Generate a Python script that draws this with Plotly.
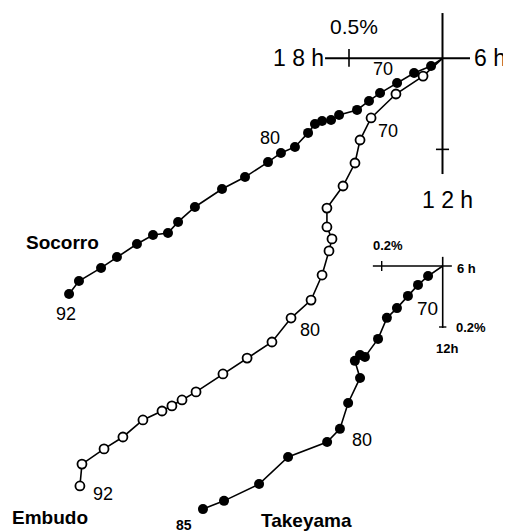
import plotly.graph_objects as go

# ---- data: harmonic dial vectors (amplitude in %), x toward 6h, y toward 12h ----
socorro_years = list(range(68, 93))
socorro_x = [-0.061, -0.152, -0.243, -0.334, -0.393, -0.457, -0.553, -0.596, -0.644, -0.682,
             -0.719, -0.789, -0.864, -0.933, -1.056, -1.179, -1.324, -1.414, -1.468, -1.548,
             -1.634, -1.741, -1.826, -1.944, -1.997]
socorro_y = [0.041, 0.079, 0.132, 0.186, 0.228, 0.276, 0.303, 0.330, 0.335, 0.351,
             0.399, 0.474, 0.506, 0.555, 0.635, 0.699, 0.795, 0.875, 0.934, 0.945,
             0.993, 1.063, 1.121, 1.191, 1.260]

embudo_years = list(range(68, 93))
embudo_x = [-0.104, -0.249, -0.382, -0.441, -0.468, -0.532, -0.618, -0.618, -0.591, -0.607,
            -0.644, -0.703, -0.810, -0.912, -1.045, -1.174, -1.318, -1.393, -1.447, -1.500,
            -1.602, -1.709, -1.810, -1.928, -1.939]
embudo_y = [0.095, 0.191, 0.319, 0.437, 0.560, 0.683, 0.801, 0.902, 0.966, 1.030,
            1.159, 1.293, 1.389, 1.517, 1.603, 1.688, 1.784, 1.827, 1.859, 1.886,
            1.934, 2.025, 2.089, 2.170, 2.287]

takeyama_years = list(range(69, 86))
takeyama_x = [-0.048, -0.081, -0.114, -0.150, -0.183, -0.212, -0.255, -0.271, -0.288, -0.271,
              -0.310, -0.337, -0.379, -0.507, -0.602, -0.717, -0.786]
takeyama_y = [0.033, 0.062, 0.098, 0.138, 0.170, 0.239, 0.298, 0.292, 0.311, 0.367,
              0.449, 0.534, 0.577, 0.626, 0.715, 0.770, 0.797]

main_scale_label = "0.5%"
main_tick = 0.5
tk_scale_label = "0.2%"
tk_tick = 0.2

# ---- layout geometry (window pixels); the page body adds an 8px margin ----
OFF = 8
W, H = 511 - OFF, 532 - OFF
O1 = (442.5 - OFF, 58.3 - OFF); S1 = 187.0   # main dial origin, px per %
O2 = (442.7 - OFF, 266.0 - OFF); S2 = 305.0  # Takeyama dial origin, px per %

def rng_x(o, s):
    return [(0 - o[0]) / s, (W - o[0]) / s]

def rng_y(o, s):
    return [(H - o[1]) / s, (0 - o[1]) / s]

def px(x, y):
    return (x - OFF) / W, 1 - (y - OFF) / H

fig = go.Figure()
LW = 1.6
BLACK = "black"

def seg(xs, ys, ax, ay, w):
    fig.add_trace(go.Scatter(x=xs, y=ys, mode="lines", line=dict(color=BLACK, width=w),
                             xaxis=ax, yaxis=ay, hoverinfo="skip"))

# main dial axes
seg([-0.628, 0.147], [0, 0], "x", "y", 2)
seg([0, 0], [-0.242, 0.619], "x", "y", 2)
seg([-main_tick, -main_tick], [-0.05, 0.045], "x", "y", 1.6)
seg([-0.035, 0.035], [0.487, 0.487], "x", "y", 1.6)

# Takeyama dial axes
seg([-0.229, 0.030], [0, 0], "x2", "y2", 1.6)
seg([0, 0], [-0.030, 0.203], "x2", "y2", 1.6)
seg([-tk_tick, -tk_tick], [-0.016, 0.016], "x2", "y2", 1.4)
seg([-0.012, 0.012], [tk_tick, tk_tick], "x2", "y2", 1.4)

# series: lines start from dial origin
def add_series(xs, ys, years, ax, ay, filled):
    fig.add_trace(go.Scatter(x=[0] + xs, y=[0] + ys, mode="lines",
                             line=dict(color=BLACK, width=LW), xaxis=ax, yaxis=ay, hoverinfo="skip"))
    fig.add_trace(go.Scatter(
        x=xs, y=ys, mode="markers", text=[str(y) for y in years], xaxis=ax, yaxis=ay,
        marker=dict(size=10 if filled else 9, symbol="circle",
                    color=BLACK if filled else "white",
                    line=dict(color=BLACK, width=0 if filled else 1.8))))

add_series(socorro_x, socorro_y, socorro_years, "x", "y", True)
add_series(embudo_x, embudo_y, embudo_years, "x", "y", False)
add_series(takeyama_x, takeyama_y, takeyama_years, "x2", "y2", True)

FONT = "Liberation Sans"
def label(text, x, y, size, bold=False, anchor="center"):
    xx, yy = px(x, y)
    fig.add_annotation(x=xx, y=yy, xref="paper", yref="paper", text=("<b>%s</b>" % text) if bold else text,
                       showarrow=False, xanchor=anchor, yanchor="middle", borderpad=0,
                       font=dict(family=FONT, size=size, color=BLACK))

# main dial labels
label(main_scale_label, 354, 27, 21)
label("1 8 h", 298, 58, 23)
label("6 h", 490, 58, 23)
label("1 2 h", 447, 200, 23)
# Takeyama dial labels
label(tk_scale_label, 388, 245, 13, True)
label("6 h", 466, 268, 13, True)
label(tk_scale_label, 471, 327, 13, True)
label("12h", 447, 348, 13, True)
# year and station labels
label("70", 383, 69, 18)
label("80", 270, 138, 18)
label("92", 66, 314, 18)
label("70", 388, 131, 18)
label("80", 310, 330, 18)
label("92", 103, 494, 18)
label("70", 427, 308, 19)
label("80", 362, 440, 18)
label("85", 184, 525, 14, True)
label("Socorro", 62, 242, 19, True)
label("Embudo", 50, 517, 19, True)
label("Takeyama", 306, 520, 19, True)

fig.update_layout(
    width=W, height=H, margin=dict(l=0, r=0, t=0, b=0),
    paper_bgcolor="white", plot_bgcolor="white", showlegend=False,
    xaxis=dict(range=rng_x(O1, S1), visible=False, domain=[0, 1]),
    yaxis=dict(range=rng_y(O1, S1), visible=False, domain=[0, 1]),
    xaxis2=dict(range=rng_x(O2, S2), visible=False, domain=[0, 1], overlaying="x"),
    yaxis2=dict(range=rng_y(O2, S2), visible=False, domain=[0, 1], overlaying="y"),
)

fig.write_html("out.html")
